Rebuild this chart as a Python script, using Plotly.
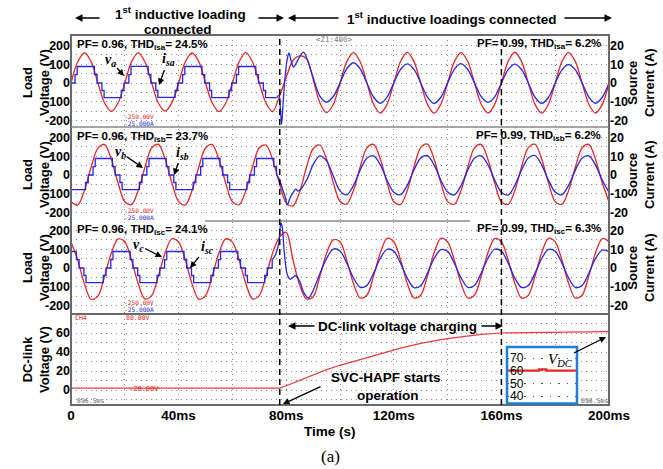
import plotly.graph_objects as go

# ---------------- data ----------------
# time grid of the voltage samples (ms)
T_V = [0, 2.5, 5, 7.5, 10, 12.5, 15, 17.5, 20, 22.5, 25, 27.5, 30, 32.5, 35, 37.5,
       40, 42.5, 45, 47.5, 50, 52.5, 55, 57.5, 60, 62.5, 65, 67.5, 70, 72.5, 75, 77.5,
       80, 82.5, 85, 87.5, 90, 92.5, 95, 97.5, 100, 102.5, 105, 107.5, 110, 112.5, 115, 117.5,
       120, 122.5, 125, 127.5, 130, 132.5, 135, 137.5, 140, 142.5, 145, 147.5, 150, 152.5, 155, 157.5,
       160, 162.5, 165, 167.5, 170, 172.5, 175, 177.5, 180, 182.5, 185, 187.5, 190, 192.5, 195, 197.5, 200]

# load voltages (V)
VA = [0, 113, 160, 113, 0, -107, -152, -107,
      0, 114, 161, 112, 0, -108, -150, -106,
      0, 113, 160, 114, 0, -107, -153, -108,
      0, 113, 162, 112, 0, -108, -152, -70,
      30, 120, 145, 130, 20, -105, -158, -115,
      0, 114, 162, 113, 0, -113, -160, -114,
      0, 115, 163, 114, 0, -114, -161, -113,
      0, 114, 162, 115, 0, -113, -160, -114,
      0, 115, 164, 114, 0, -114, -161, -113,
      0, 114, 162, 114, 0, -113, -160, -114, 0]
VB = [-143, -160, -83, 43, 143, 162, 83, -43,
      -143, -158, -82, 42, 145, 163, 84, -42,
      -142, -160, -83, 43, 144, 162, 83, -43,
      -143, -159, -82, 44, 145, 160, 80, -45,
      -150, -165, -90, 40, 140, 160, 85, -40,
      -140, -155, -82, 43, 145, 163, 85, -42,
      -143, -157, -83, 44, 146, 165, 84, -43,
      -142, -156, -82, 43, 145, 163, 83, -43,
      -143, -157, -83, 44, 146, 164, 84, -42,
      -142, -156, -82, 43, 145, 163, 83, -43, -143]
VC = [139, 43, -85, -168, -150, -43, 80, 155,
      140, 42, -84, -165, -147, -42, 81, 156,
      139, 43, -85, -166, -148, -43, 80, 155,
      138, 42, -84, -165, -147, -42, 82, 165,
      190, 45, -90, -165, -155, -45, 78, 150,
      140, 42, -83, -160, -145, -42, 82, 158,
      140, 43, -82, -160, -145, -43, 82, 158,
      139, 42, -83, -160, -145, -42, 81, 157,
      140, 43, -82, -161, -146, -43, 82, 158,
      139, 42, -83, -160, -145, -42, 81, 157, 140]

# stepped source currents before compensation (A): level changes
IA_STEP_T = [0, 1.5, 2.3, 8.7, 9.7, 11.5, 12.3, 18.7, 19.7, 21.5, 22.3, 28.7, 29.7, 31.5, 32.3, 38.7,
             39.7, 41.5, 42.3, 48.7, 49.7, 51.5, 52.3, 58.7, 59.7, 61.5, 62.3, 68.7, 69.7, 71.5, 72.3, 76.5]
IA_STEP = [0, 4.5, 8.8, 4.5, 0, -4, -7.8, -4, 0, 4.5, 8.9, 4.5, 0, -4, -7.7, -4,
           0, 4.5, 8.8, 4.5, 0, -4, -7.8, -4, 0, 4.5, 8.8, 4.5, 0, -4, -7.8, -7.8]
IB_STEP_T = [0, 5.4, 6.4, 8.2, 9.0, 15.4, 16.4, 18.2, 19.0, 25.4, 26.4, 28.2, 29.0, 35.4, 36.4, 38.2,
             39.0, 45.4, 46.4, 48.2, 49.0, 55.4, 56.4, 58.2, 59.0, 65.4, 66.4, 68.2, 69.0, 75.4, 76.4]
IB_STEP = [-7.8, -4, 0, 4.5, 8.8, 4.5, 0, -4, -7.8, -4, 0, 4.5, 8.8, 4.5, 0, -4,
           -7.8, -4, 0, 4.5, 8.8, 4.5, 0, -4, -7.8, -4, 0, 4.5, 8.8, 4.5, 0]
IC_STEP_T = [0, 2.0, 3.0, 4.8, 5.6, 12.0, 13.0, 14.8, 15.6, 22.0, 23.0, 24.8, 25.6, 32.0, 33.0, 34.8,
             35.6, 42.0, 43.0, 44.8, 45.6, 52.0, 53.0, 54.8, 55.6, 62.0, 63.0, 64.8, 65.6, 72.0, 73.0, 74.8]
IC_STEP = [8.8, 4.5, 0, -4, -7.8, -4, 0, 4.5, 8.8, 4.5, 0, -4, -7.8, -4, 0, 4.5,
           8.8, 4.5, 0, -4, -7.8, -4, 0, 4.5, 8.8, 4.5, 0, -4, -7.8, -4, 0, 4.5]

# transient after SVC-HAPF starts (A)
IA_TR_T = [76.5, 77.3, 77.8, 78.3, 78.8, 79.5, 80.3, 81.0, 81.8, 82.7, 83.5, 85.0, 86.4, 88.0, 90.0, 92.5, 95.0, 97.5]
IA_TR = [-7.8, -6.5, -13, -22, -12, 2, 12, 16, 12, 8.5, 10, 14, 16.5, 12, 3, -7, -10.2, -7.2]
IB_TR_T = [76.4, 77.5, 78.5, 79.7, 80.4, 81.5, 82.7, 83.5, 84.5, 86.0, 88.0, 90.0, 92.5, 95.0, 97.5]
IB_TR = [0, -2.5, -7, -12, -16, -12, -9, -7.5, -8.5, -6.5, -1.5, 5.5, 10.2, 7.5, -0.5]
IC_TR_T = [74.8, 75.6, 76.5, 77.3, 78.0, 78.5, 79.3, 80.4, 81.5, 82.5, 83.5, 85.0, 86.5, 88.3, 90.0, 92.5, 95.0, 97.5]
IC_TR = [4.5, 6, 9, 14, 24, 22, 8, -3.5, -6, -5, -4, -7, -13, -16, -12, -3, 5, 10.1]

# compensated sinusoidal source currents, sampled on T_V from 100 ms (A)
IA_SS = [0, 7.6, 10.8, 7.5, 0, -7.6, -10.8, -7.5,
         0, 7.2, 10.2, 7.3, 0, -7.5, -10.9, -7.6,
         0, 7.3, 10.3, 7.2, 0, -7.3, -10.3, -7.4,
         0, 7.1, 10.1, 7.2, 0, -7.6, -10.9, -7.6,
         0, 7.0, 9.8, 7.0, 0, -7.5, -10.8, -7.6, 0]
IB_SS = [-8.5, -10.6, -5.6, 2.6, 9.0, 10.2, 5.4, -2.8,
         -9.2, -10.5, -5.5, 2.7, 9.1, 10.3, 5.3, -2.8,
         -9.1, -10.6, -5.6, 2.6, 9.0, 10.2, 5.4, -2.7,
         -9.2, -10.7, -5.5, 2.7, 9.1, 10.4, 5.3, -2.8,
         -9.1, -10.5, -5.5, 2.6, 9.0, 10.2, 5.3, -2.8, -9.1]
IC_SS = [9.1, 2.7, -5.3, -10.3, -9.3, -2.7, 5.2, 10.0,
         9.0, 2.6, -5.4, -10.5, -9.4, -2.8, 5.1, 9.8,
         8.9, 2.6, -5.3, -10.3, -9.3, -2.7, 5.2, 10.0,
         9.0, 2.7, -5.4, -10.4, -9.3, -2.7, 5.1, 9.9,
         8.9, 2.6, -5.4, -10.4, -9.3, -2.8, 5.1, 9.6, 8.8]

# DC-link voltage (V)
DC_T = [0, 77.6, 80, 85, 90, 95, 100, 107.5, 115, 122.5, 130, 137.5, 145, 152.5, 160, 170, 180, 190, 200]
DC_V = [2, 2, 4.5, 10, 16, 21.5, 26, 32, 38, 44, 49, 53, 56, 58.5, 60, 60.5, 61, 61, 61.5]

# zoomed inset of V_DC
INSET_T = [0, 4.6, 4.6, 5.6, 5.6, 10]
INSET_V = [60, 60, 61, 61, 60, 60]

# event instants (ms)
EVENT_T = [77.6, 160]

# ticks
TIME_TICKS = [0, 20, 40, 60, 80, 100, 120, 140, 160, 180, 200]
TIME_LABELS = ["0", "", "40ms", "", "80ms", "", "120ms", "", "160ms", "", "200ms"]
V_TICKS = [-200, -150, -100, -50, 0, 50, 100, 150, 200]
V_LABELS = ["-200", "", "-100", "", "0", "", "100", "", "200"]
I_TICKS = [-20, -10, 0, 10, 20]
I_LABELS = ["-20", "-10", "0", "10", "20"]
DC_TICKS = [-10, 0, 10, 20, 30, 40, 50, 60, 70]
DC_LABELS = ["", "0", "", "20", "", "40", "", "60", ""]
INSET_TICKS = [40, 50, 60, 70]
INSET_LABELS = ["40", "50", "60", "70"]

# ---------------- geometry helpers (pixel -> paper) ----------------
W, H = 663, 469
L, R, T, B = 71, 609, 35, 405


def px(x):
    return (x - L) / (R - L)


def py(y):
    return (B - y) / (B - T)


S = 0.1875  # px per volt in the three phase panels
R1 = [-(129 - 83) / S, (83 - 35) / S]
R2 = [-(222 - 175) / S, (175 - 129) / S]
R3 = [-(314 - 268) / S, (268 - 222) / S]
R4 = [-(405 - 390) / 0.95, (390 - 314) / 0.95]
IN_TOP, IN_BOT = 347, 405
SI = (396 - 358) / 30  # px per volt in the inset (70 V at 358 px, 40 V at 396 px)
RI = [40 - (IN_BOT - 396) / SI, 70 + (358 - IN_TOP) / SI]

RED = "#e92525"
BLUE = "#2626e8"
GRID = "#8a8a8a"
DOT = "1px,4px"

fig = go.Figure()


def add(x, y, color, yaxis, shape="spline", xaxis="x", width=1.3):
    fig.add_trace(go.Scatter(x=x, y=y, mode="lines", xaxis=xaxis, yaxis=yaxis,
                             line=dict(color=color, width=width, shape=shape, smoothing=0.9),
                             hoverinfo="skip", showlegend=False))


T_SS = T_V[40:]
add(T_V, VA, RED, "y")
add(IA_STEP_T, IA_STEP, BLUE, "y2", shape="hv")
add(IA_TR_T + T_SS, IA_TR + IA_SS, BLUE, "y2")
add(T_V, VB, RED, "y3")
add(IB_STEP_T, IB_STEP, BLUE, "y4", shape="hv")
add(IB_TR_T + T_SS, IB_TR + IB_SS, BLUE, "y4")
add(T_V, VC, RED, "y5")
add(IC_STEP_T, IC_STEP, BLUE, "y6", shape="hv")
add(IC_TR_T + T_SS, IC_TR + IC_SS, BLUE, "y6")
add(DC_T, DC_V, "#ee3a3a", "y7", shape="linear", width=1.2)
add(INSET_T, INSET_V, RED, "y8", shape="linear", xaxis="x2", width=2.4)

tickfont = dict(family="Liberation Sans", size=12.5, color="black", weight="bold")


def vaxis(domain, rng, ticks, labels):
    return dict(domain=domain, range=rng, anchor="x", tickvals=ticks, ticktext=labels,
                showgrid=True, gridcolor=GRID, griddash=DOT, gridwidth=1, zeroline=False,
                showline=False, ticks="", tickfont=tickfont, fixedrange=True)


def iaxis(over, rng):
    return dict(overlaying=over, side="right", anchor="x", range=rng, tickvals=I_TICKS,
                ticktext=I_LABELS, showgrid=False, zeroline=False, showline=False, ticks="",
                tickfont=tickfont)


D1 = [py(129), 1]
D2 = [py(222), py(129)]
D3 = [py(314), py(222)]
D4 = [0, py(314)]

fig.update_layout(
    width=W, height=H, margin=dict(l=L, r=W - R, t=T, b=H - B),
    paper_bgcolor="white", plot_bgcolor="white",
    font=dict(family="Liberation Sans", color="black"),
    xaxis=dict(domain=[0, 1], range=[0, 200], anchor="y7", tickvals=TIME_TICKS, ticktext=TIME_LABELS,
               showgrid=True, gridcolor=GRID, griddash=DOT, zeroline=False, showline=False, ticks="",
               tickfont=dict(family="Liberation Sans", size=13.5, color="black", weight="bold")),
    yaxis=vaxis(D1, R1, V_TICKS, V_LABELS),
    yaxis2=iaxis("y", [v / 10 for v in R1]),
    yaxis3=vaxis(D2, R2, V_TICKS, V_LABELS),
    yaxis4=iaxis("y3", [v / 10 for v in R2]),
    yaxis5=vaxis(D3, R3, V_TICKS, V_LABELS),
    yaxis6=iaxis("y5", [v / 10 for v in R3]),
    yaxis7=vaxis(D4, R4, DC_TICKS, DC_LABELS),
    xaxis2=dict(domain=[px(507), px(577)], range=[0, 10], anchor="y8", showticklabels=False,
                showgrid=False, zeroline=False, ticks=""),
    yaxis8=dict(domain=[py(IN_BOT), py(IN_TOP)], range=RI, anchor="x2", tickvals=INSET_TICKS,
                ticktext=INSET_LABELS, ticklabelposition="inside", showgrid=True, gridcolor="#555",
                griddash="1.5px,7px", zeroline=False, ticks="",
                tickfont=dict(family="Liberation Sans", size=12, color="black")),
)

shapes = []
# inset white background (covers main grid)
shapes.append(dict(type="rect", xref="x2 domain", yref="y8 domain", x0=0, x1=1, y0=0, y1=1,
                   fillcolor="white", line=dict(width=0), layer="below"))
# screen frame and separators
shapes.append(dict(type="rect", xref="paper", yref="paper", x0=0, x1=1, y0=0, y1=1,
                   line=dict(color="#6a6a6a", width=2), layer="above"))
shapes.append(dict(type="line", xref="paper", yref="paper", x0=0, x1=1, y0=py(127), y1=py(127),
                   line=dict(color="#8a8a8a", width=1.5), layer="above"))
shapes.append(dict(type="line", xref="paper", yref="paper", x0=px(205), x1=px(470), y0=py(221), y1=py(221),
                   line=dict(color="#555555", width=1.2), layer="above"))
shapes.append(dict(type="line", xref="paper", yref="paper", x0=0, x1=1, y0=py(314), y1=py(314),
                   line=dict(color="#6a6a6a", width=2), layer="above"))
# inset border
shapes.append(dict(type="rect", xref="paper", yref="paper", x0=px(507), x1=px(577), y0=py(403.5), y1=py(IN_TOP),
                   line=dict(color="#1e7fd2", width=2.5), layer="above"))
# event lines
for te in EVENT_T:
    shapes.append(dict(type="line", xref="x", yref="paper", x0=te, x1=te, y0=0, y1=1,
                       line=dict(color="black", width=1.5, dash="6px,4px"), layer="above"))
fig.update_layout(shapes=shapes)

ann = []


def text(x, y, s, size=12, color="black", family="Liberation Sans", xanchor="center", angle=0):
    ann.append(dict(x=px(x), y=py(y), xref="paper", yref="paper", text=s, showarrow=False,
                    xanchor=xanchor, yanchor="middle", textangle=angle,
                    font=dict(size=size, color=color, family=family)))


def arrow(hx, hy, tx, ty, s="", size=13, family="Liberation Sans", width=1.3):
    ann.append(dict(x=px(hx), y=py(hy), xref="paper", yref="paper", ax=tx - hx, ay=ty - hy,
                    axref="pixel", ayref="pixel", text=s, showarrow=True, arrowhead=2,
                    arrowsize=1, arrowwidth=width, arrowcolor="black", standoff=0,
                    font=dict(size=size, family=family, color="black")))


# header
text(180, 13, "<b>1<sup>st</sup> inductive loading</b>", 13.5)
text(178, 30, "<b>connected</b>", 13.5)
arrow(75, 18, 101, 18, width=1.5)
arrow(284, 18, 257, 18, width=1.5)
arrow(288, 18, 340, 18, width=1.5)
text(451, 18, "<b>1<sup>st</sup> inductive loadings connected</b>", 13.5)
arrow(612, 18, 563, 18, width=1.5)

# PF / THD labels
for yy, ph, thd_l, thd_r in [(45, "a", "24.5", "6.2"), (137, "b", "23.7", "6.2"), (230, "c", "24.1", "6.3")]:
    text(75, yy, f"<b>PF= 0.96, THD<sub>is{ph}</sub>= {thd_l}%</b>", 11.5, xanchor="left")
    text(603, yy - 1, f"<b>PF= 0.99, THD<sub>is{ph}</sub>= {thd_r}%</b>", 11.5, xanchor="right")

# axis titles
for yc in [83, 175, 268]:
    text(36, yc, "<b>Load<br>Voltage (V)</b>", 13, angle=-90)
    text(641, yc, "<b>Source<br>Current (A)</b>", 13, angle=-90)
text(36, 360, "<b>DC-link<br>Voltage (V)</b>", 13, angle=-90)
text(330, 432, "<b>Time (s)</b>", 13.5)
text(330, 456, "(a)", 17, family="Liberation Serif")

# oscilloscope readouts
MONO = "DejaVu Sans Mono"
for y1 in [116, 210, 302]:
    text(139, y1, "-250.00V", 6.2, RED, MONO)
    text(139, y1 + 7, "-25.000A", 6.2, BLUE, MONO)
text(334, 39, "&lt;Z1:400&gt;", 7.5, "#777777", MONO)
text(81, 318, "CH4", 6.5, RED, MONO)
text(138, 318, "80.00V", 6.5, RED, MONO)
text(144, 389, "-20.00V", 7, RED, MONO)
text(90, 401, "896.5ms", 6.5, "#666666", MONO)
text(594, 401, "096.5ms", 6.5, "#666666", MONO)

# waveform labels
SER = "Liberation Serif"
arrow(124, 76, 110, 60, "<b><i>v<sub>a</sub></i></b>", 14, SER)
arrow(159, 85, 168, 60, "<b><i>i<sub>sa</sub></i></b>", 14, SER)
arrow(143, 168, 120, 152, "<b><i>v<sub>b</sub></i></b>", 14, SER)
arrow(174, 175, 182, 153, "<b><i>i<sub>sb</sub></i></b>", 14, SER)
arrow(162, 257, 138, 245, "<b><i>v<sub>c</sub></i></b>", 14, SER)
arrow(190, 268, 207, 247, "<b><i>i<sub>sc</sub></i></b>", 14, SER)

# DC-link annotations
text(397, 326, "<b>DC-link voltage charging</b>", 13.5)
arrow(288, 326, 316, 326, width=1.5)
arrow(503, 326, 480, 326, width=1.5)
text(386, 377, "<b>SVC-HAPF starts</b>", 13.5)
text(388, 395, "<b>operation</b>", 13.5)
arrow(283, 404, 322, 386)
arrow(606, 337, 560, 360, "<i>V<sub>DC</sub></i>", 15, SER)

fig.update_layout(annotations=ann)
fig.write_html("out.html", config={"displayModeBar": False},
               post_script="document.body.style.margin='0';document.body.style.padding='0';"
                           "document.body.style.overflow='hidden';")
